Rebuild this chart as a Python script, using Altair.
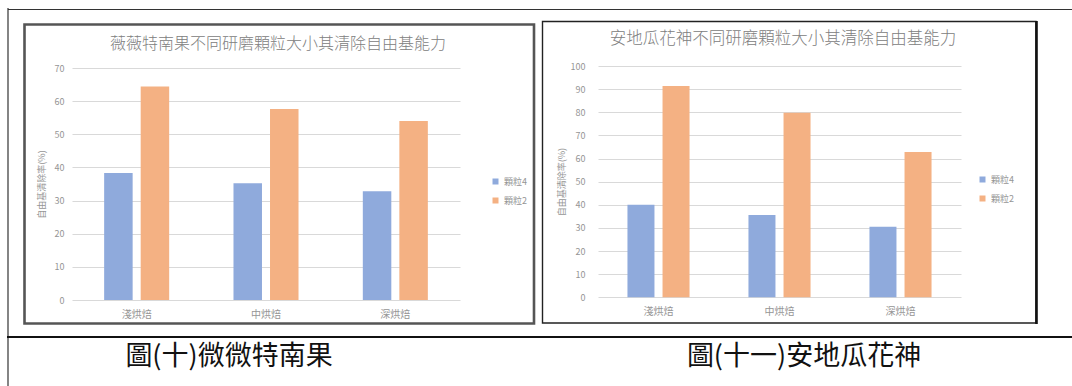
import altair as alt
import pandas as pd

# Categories and series
roasts = ["淺烘焙", "中烘焙", "深烘焙"]
sizes = ["顆粒4", "顆粒2"]

# Free-radical scavenging rate (%) — 微微特南果
left_g4 = [38.3, 35.2, 32.8]
left_g2 = [64.4, 57.6, 54.0]
left_ticks = [0, 10, 20, 30, 40, 50, 60, 70]

# Free-radical scavenging rate (%) — 安地瓜花神
right_g4 = [40.0, 35.6, 30.5]
right_g2 = [91.4, 79.8, 62.8]
right_ticks = [0, 10, 20, 30, 40, 50, 60, 70, 80, 90, 100]

left_title = "薇薇特南果不同研磨顆粒大小其清除自由基能力"
right_title = "安地瓜花神不同研磨顆粒大小其清除自由基能力"
left_caption = "圖(十)微微特南果"
right_caption = "圖(十一)安地瓜花神"
y_title = "自由基清除率(%)"

W, H = 1072, 386
FONT = "Noto Sans CJK TC"
BLUE, ORANGE = "#8FAADC", "#F4B183"
GRID = "#d9d9d9"
TXT = "#959595"


def frame(rows):
    return pd.DataFrame(
        {
            "roast": roasts * 2,
            "size": [sizes[0]] * 3 + [sizes[1]] * 3,
            "rate": rows[0] + rows[1],
        }
    )


def panel(df, ticks, ymax, xr, yr, inner, outer, y_off, title_pad, legend_xy):
    y0 = yr[0]
    return (
        alt.Chart(df)
        .mark_bar()
        .encode(
            x=alt.X(
                "roast:N",
                sort=roasts,
                scale=alt.Scale(range=xr, paddingInner=0, paddingOuter=0),
                axis=alt.Axis(
                    title=None,
                    orient="bottom",
                    offset=-(H - y0),
                    labelAngle=0,
                    domain=False,
                    ticks=False,
                    grid=False,
                    labelPadding=9,
                    labelFont=FONT,
                    labelFontSize=10,
                    labelColor=TXT,
                ),
            ),
            xOffset=alt.XOffset(
                "size:N",
                sort=sizes,
                scale=alt.Scale(paddingInner=inner, paddingOuter=outer),
            ),
            y=alt.Y(
                "rate:Q",
                scale=alt.Scale(domain=[0, ymax], range=yr, nice=False, zero=True),
                axis=alt.Axis(
                    orient="left",
                    values=ticks,
                    offset=y_off,
                    domain=False,
                    ticks=False,
                    grid=True,
                    gridColor=GRID,
                    gridWidth=1,
                    labelPadding=4,
                    labelFont=FONT,
                    labelFontSize=9,
                    labelColor=TXT,
                    title=y_title,
                    titleFont=FONT,
                    titleFontSize=9,
                    titleFontWeight="normal",
                    titleColor=TXT,
                    titlePadding=title_pad,
                ),
            ),
            color=alt.Color(
                "size:N",
                sort=sizes,
                scale=alt.Scale(domain=sizes, range=[BLUE, ORANGE]),
                legend=alt.Legend(
                    title=None,
                    orient="none",
                    legendX=legend_xy[0],
                    legendY=legend_xy[1],
                    padding=0,
                    symbolType="square",
                    symbolSize=36,
                    symbolStrokeWidth=0,
                    labelFont=FONT,
                    labelFontSize=9,
                    labelColor=TXT,
                    rowPadding=9,
                    labelOffset=4,
                ),
            ),
        )
    )


left = panel(frame([left_g4, left_g2]), left_ticks, 70, [72, 460], [300, 68],
             0.22, 0.88, -68, 8, (491, 177))
right = panel(frame([right_g4, right_g2]), right_ticks, 100, [598, 961], [297.3, 66],
              0.23, 0.84, -589, 4, (978, 175))

one = pd.DataFrame({"k": [0]})

# Document table borders
table_lines = [
    alt.Chart(one).mark_rule(color="#333333", strokeWidth=1.2).encode(
        x=alt.value(8), x2=alt.value(W), y=alt.value(9.5)),
    alt.Chart(one).mark_rule(color="#333333", strokeWidth=1.2).encode(
        x=alt.value(8), y=alt.value(8), y2=alt.value(H)),
    alt.Chart(one).mark_rule(color="#111111", strokeWidth=2).encode(
        x=alt.value(7), x2=alt.value(W), y=alt.value(337)),
]

# Chart frames
frames = [
    alt.Chart(one).mark_rect(fillOpacity=0, stroke="#555555", strokeWidth=2.6).encode(
        x=alt.value(24.5), x2=alt.value(534), y=alt.value(24.5), y2=alt.value(323.5)),
    alt.Chart(one).mark_rect(fillOpacity=0, stroke="#222222", strokeWidth=1.4).encode(
        x=alt.value(542.5), x2=alt.value(1036), y=alt.value(21.5), y2=alt.value(323)),
    alt.Chart(one).mark_rule(color="#111111", strokeWidth=2.6).encode(
        x=alt.value(1036.5), y=alt.value(21), y2=alt.value(324)),
]

# Chart titles and figure captions
texts = [
    alt.Chart(one).mark_text(font=FONT, fontSize=16, color="#808080", fontWeight=300).encode(
        x=alt.value(278), y=alt.value(44), text=alt.value(left_title)),
    alt.Chart(one).mark_text(font=FONT, fontSize=16.5, color="#808080", fontWeight=300).encode(
        x=alt.value(783), y=alt.value(39), text=alt.value(right_title)),
    alt.Chart(one).mark_text(font=FONT, fontSize=27, color="#111111").encode(
        x=alt.value(229), y=alt.value(357), text=alt.value(left_caption)),
    alt.Chart(one).mark_text(font=FONT, fontSize=27, color="#111111").encode(
        x=alt.value(804), y=alt.value(357), text=alt.value(right_caption)),
]

chart = (
    alt.layer(left, right, *table_lines, *frames, *texts)
    .resolve_scale(x="independent", y="independent", color="independent", xOffset="independent")
    .resolve_axis(x="independent", y="independent")
    .resolve_legend(color="independent")
    .properties(width=W, height=H, padding=0, autosize=alt.AutoSizeParams(type="none"),
                background="white")
    .configure_view(stroke=None)
)

chart.save("out.html", embed_options={"renderer": "svg", "actions": False})
